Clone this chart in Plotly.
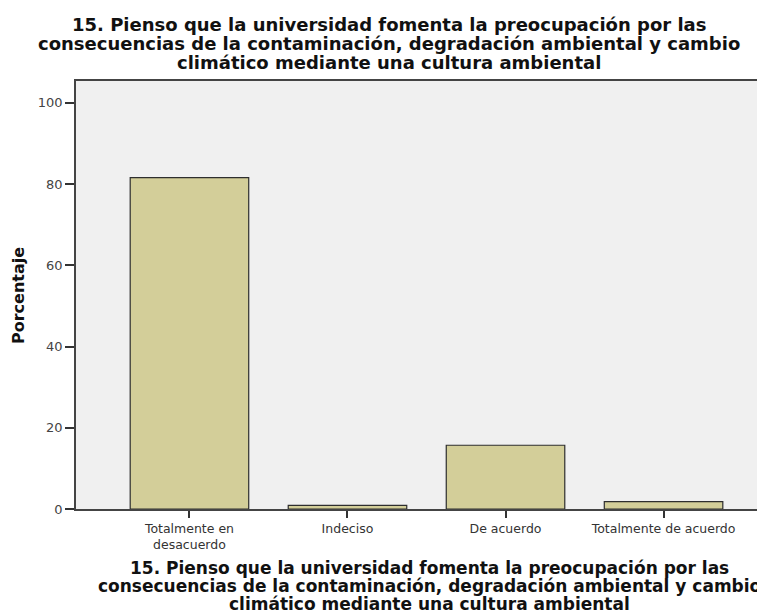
import plotly.graph_objects as go

categories = ["Totalmente en<br>desacuerdo", "Indeciso", "De acuerdo", "Totalmente de acuerdo"]
percentages = [81.6, 0.9, 15.7, 1.8]
y_ticks = [0, 20, 40, 60, 80, 100]

title_lines = [
    "15. Pienso que la universidad fomenta la preocupación por las",
    "consecuencias de la contaminación, degradación ambiental y cambio",
    "climático mediante una cultura ambiental",
]
y_title = "Porcentaje"

# page geometry (the page body has an 8px margin)
OFF = 8
W, H = 765 - OFF, 614 - OFF
ML, MT, MB = 76 - OFF, 81 - OFF, 614 - 509
PLOT_W = W - ML
PLOT_H = H - MT - MB


def px(xp):
    return (xp - 76) / PLOT_W


def py(yp):
    return (509 - yp) / PLOT_H


fig = go.Figure()
fig.add_trace(go.Bar(
    x=list(range(len(categories))),
    y=percentages,
    width=0.75,
    marker=dict(color="#d3ce99", line=dict(color="#2e2e2e", width=1.2)),
    hoverinfo="y",
))

annotations = []
# top title
for line, yc in zip(title_lines, [24.5, 44, 63]):
    annotations.append(dict(
        text="<b>" + line + "</b>", xref="paper", yref="paper",
        x=px(389), y=py(yc), xanchor="center", yanchor="middle",
        showarrow=False, font=dict(family="DejaVu Sans", size=18, color="#111111")))
# x-axis title
for line, yc in zip(title_lines, [568, 586, 604]):
    annotations.append(dict(
        text="<b>" + line + "</b>", xref="paper", yref="paper",
        x=px(429), y=py(yc), xanchor="center", yanchor="middle",
        showarrow=False, font=dict(family="DejaVu Sans", size=17, color="#111111")))
# y-axis title
annotations.append(dict(
    text="<b>" + y_title + "</b>", xref="paper", yref="paper",
    x=px(18), y=py(296), xanchor="center", yanchor="middle", textangle=-90,
    showarrow=False, font=dict(family="DejaVu Sans", size=16, color="#111111")))

fig.update_layout(
    width=W, height=H,
    margin=dict(l=ML, r=0, t=MT, b=MB, pad=0),
    paper_bgcolor="white",
    plot_bgcolor="#f0f0f0",
    showlegend=False,
    xaxis=dict(
        range=[-0.718, 3.642],
        tickmode="array",
        tickvals=list(range(len(categories))),
        ticktext=categories,
        ticks="outside", ticklen=7, tickwidth=1.5, tickcolor="#333333",
        showline=True, linecolor="#444444", linewidth=1.5, mirror=True,
        showgrid=False, zeroline=False,
        tickfont=dict(family="DejaVu Sans", size=12.5, color="#333333"),
    ),
    yaxis=dict(
        range=[0, 105.4],
        tickmode="array", tickvals=y_ticks,
        ticks="outside", ticklen=9, tickwidth=1.5, tickcolor="#333333",
        showline=True, linecolor="#444444", linewidth=1.5, mirror=False,
        showgrid=False, zeroline=False,
        tickfont=dict(family="DejaVu Sans", size=13, color="#444444"),
    ),
    annotations=annotations,
)

fig.write_html("out.html")
